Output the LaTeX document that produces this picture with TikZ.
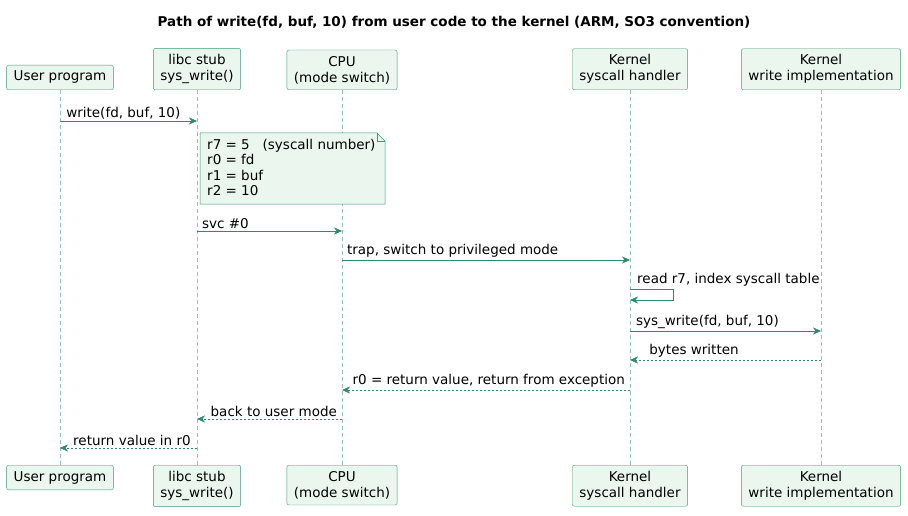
\documentclass[tikz,border=0pt]{standalone}
\usepackage{fontspec}
\setmainfont{DejaVu Sans}
\usetikzlibrary{arrows.meta}
\definecolor{bfill}{HTML}{EAF6EE}
\definecolor{bdraw}{HTML}{3A9A78}
\definecolor{arr}{HTML}{2E8B6A}
\definecolor{life}{HTML}{8FC3B2}
\begin{document}
\begin{tikzpicture}[x=1pt,y=-1pt,
  font=\fontsize{13.5}{16}\selectfont,
  part/.style={draw=bdraw,fill=bfill,rounded corners=2pt,align=center,inner xsep=7pt,inner ysep=6pt},
  msg/.style={draw=arr,-{Stealth[length=8pt,width=7pt]}},
  ret/.style={msg,dashed,dash pattern=on 2pt off 2pt},
  lbl/.style={above,inner sep=2pt},
  lifeline/.style={draw=life,dashed,dash pattern=on 4pt off 3pt}]
\useasboundingbox (0,0) rectangle (908,516);
\node[font=\fontsize{13.5}{16}\selectfont\bfseries] (title) at (454,22) {Path of write(fd, buf, 10) from user code to the kernel (ARM, SO3 convention)};
% top participants
\node[part,anchor=south] (u1) at (60,90) {User program};
\node[part,anchor=south] (l1) at (197,90) {libc stub\\sys\_write()};
\node[part,anchor=south] (c1) at (342,90) {CPU\\(mode switch)};
\node[part,anchor=south] (h1) at (630,90) {Kernel\\syscall handler};
\node[part,anchor=south] (w1) at (821,90) {Kernel\\write implementation};
% bottom participants
\node[part,anchor=north] (u2) at (60,465) {User program};
\node[part,anchor=north] (l2) at (197,465) {libc stub\\sys\_write()};
\node[part,anchor=north] (c2) at (342,465) {CPU\\(mode switch)};
\node[part,anchor=north] (h2) at (630,465) {Kernel\\syscall handler};
\node[part,anchor=north] (w2) at (821,465) {Kernel\\write implementation};
\foreach \n in {u,l,c,h,w} \draw[lifeline] (\n1.south) -- (\n2.north);
% note
\draw[draw=bdraw,fill=bfill,line width=0.5pt] (200,133) -- (377,133) -- (385,141) -- (385,204) -- (200,204) -- cycle;
\draw[draw=bdraw,line width=0.5pt] (377,133) -- (377,141) -- (385,141);
\node[anchor=north west,align=left,inner sep=0pt,font=\fontsize{13.5}{15.5}\selectfont] (note) at (207,139) {r7 = 5\ \ \ (syscall number)\\r0 = fd\\r1 = buf\\r2 = 10};
% messages
\coordinate (a1) at (60,121); \coordinate (b1) at (197,121);
\draw[msg] (a1) -- node[lbl,pos=0.03,anchor=south west] {write(fd, buf, 10)} (b1);
\coordinate (a2) at (197,231); \coordinate (b2) at (342,231);
\draw[msg] (a2) -- node[lbl,pos=0.02,anchor=south west] {svc \#0} (b2);
\coordinate (a3) at (342,260); \coordinate (b3) at (630,260);
\draw[msg] (a3) -- node[lbl,pos=0.01,anchor=south west] {trap, switch to privileged mode} (b3);
\coordinate (a4) at (630,289); \coordinate (b4) at (630,300);
\draw[msg] (a4) -- (673,289) -- (673,300) -- (b4);
\node[anchor=south west,inner sep=2pt] (l4) at (635,289) {read r7, index syscall table};
\coordinate (a5) at (630,331); \coordinate (b5) at (821,331);
\draw[msg] (a5) -- node[lbl,pos=0.02,anchor=south west] {sys\_write(fd, buf, 10)} (b5);
\coordinate (a6) at (821,360); \coordinate (b6) at (630,360);
\draw[ret] (a6) -- node[lbl,pos=0.91,anchor=south west] {bytes written} (b6);
\coordinate (a7) at (630,390); \coordinate (b7) at (342,390);
\draw[ret] (a7) -- node[lbl,pos=0.01,anchor=south east] {r0 = return value, return from exception} (b7);
\coordinate (a8) at (342,419); \coordinate (b8) at (197,419);
\draw[ret] (a8) -- node[lbl,pos=0.02,anchor=south east] {back to user mode} (b8);
\coordinate (a9) at (197,448); \coordinate (b9) at (60,448);
\draw[ret] (a9) -- node[lbl,pos=0.03,anchor=south east] {return value in r0} (b9);
\end{tikzpicture}
\end{document}
